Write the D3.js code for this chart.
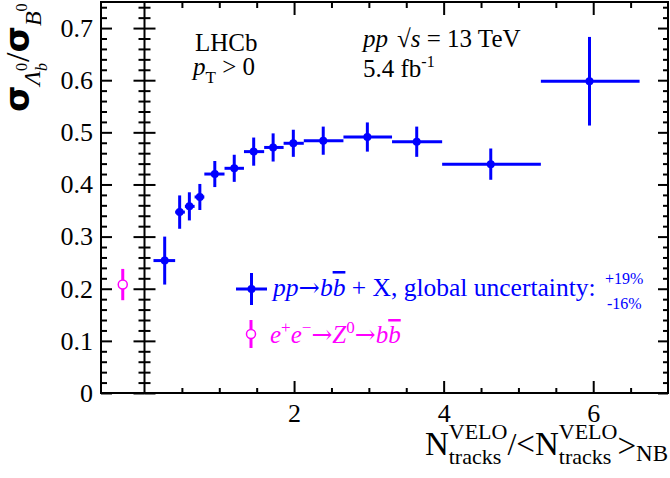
<!DOCTYPE html>
<html lang="en">
<head>
<meta charset="utf-8">
<title>Lambda_b / B0 ratio vs multiplicity</title>
<script src="https://cdn.jsdelivr.net/npm/d3@7/dist/d3.min.js"></script>
<style>
body { margin: 0; background: #fff; }
svg { display: block; font-family: "Liberation Serif", "Times New Roman", serif; }
svg text { white-space: pre; }
.tick line { stroke: #000; stroke-width: 2px; }
</style>
</head>
<body>
<script>

// pp data, one entry per multiplicity bin
var xCenter = [0.27, 0.47, 0.60, 0.74, 0.94, 1.20, 1.46, 1.72, 1.99, 2.39, 2.98, 3.64, 4.63, 5.95];
var xLow    = [0.12, 0.41, 0.54, 0.67, 0.80, 1.07, 1.33, 1.60, 1.86, 2.13, 2.66, 3.31, 3.98, 5.30];
var xHigh   = [0.41, 0.54, 0.67, 0.80, 1.07, 1.33, 1.60, 1.86, 2.13, 2.66, 3.31, 3.98, 5.30, 6.62];
var ratio    = [0.254, 0.347, 0.358, 0.376, 0.420, 0.431, 0.463, 0.471, 0.479, 0.484, 0.491, 0.482, 0.439, 0.598];
var ratioErr = [0.046, 0.032, 0.027, 0.025, 0.025, 0.026, 0.027, 0.027, 0.026, 0.027, 0.028, 0.029, 0.030, 0.085];

// e+e- (LEP) point, drawn in the side panel
var lepLabel = ["ee"];
var lepValue = [0.208];
var lepErr   = [0.030];

// ticks
var yMajor = [0, 0.1, 0.2, 0.3, 0.4, 0.5, 0.6, 0.7];
var yMinor = d3.range(0, 0.75, 0.02).filter(function(v) { return Math.abs(v * 10 - Math.round(v * 10)) > 1e-6; });
var xMajor = [2, 4, 6];
var xMinor = [0.5, 1, 1.5, 2.5, 3, 3.5, 4.5, 5, 5.5, 6.5];

var blue = "#0000ff", magenta = "#ff00ff";

var W = 670, H = 478;
// frame edges (don't call these top/left: window.top is taken)
var fL = 101, fM = 144.5, fR = 668, fT = 2, fB = 393;

var svg = d3.select("body").append("svg").attr("width", W).attr("height", H);

var x = d3.scaleLinear().domain([0, 7]).range([fM, fR]);
var y = d3.scaleLinear().domain([0, 0.75]).range([fB, fT]);
var xLep = d3.scalePoint().domain(lepLabel).range([fL, fM]).padding(0.5);

// ---- axes ----
function tidy(g) {
  g.select(".domain").remove();
  g.attr("font-family", "Liberation Serif").attr("font-size", 26);
  g.selectAll("text").attr("fill", "#000");
}

// left axis with labels, ticks pointing into the side panel
svg.append("g").attr("transform", "translate(" + fL + ",0)")
  .call(d3.axisLeft(y).tickValues(yMajor).tickSize(-11).tickPadding(8).tickFormat(d3.format("~g")))
  .call(tidy);
svg.append("g").attr("transform", "translate(" + fL + ",0)")
  .call(d3.axisLeft(y).tickValues(yMinor).tickSize(-6).tickFormat(""))
  .call(tidy);

// middle axis, ticks on both sides
[d3.axisLeft, d3.axisRight].forEach(function(ax) {
  svg.append("g").attr("transform", "translate(" + fM + ",0)")
    .call(ax(y).tickValues(yMajor).tickSize(11).tickFormat("")).call(tidy);
  svg.append("g").attr("transform", "translate(" + fM + ",0)")
    .call(ax(y).tickValues(yMinor).tickSize(6).tickFormat("")).call(tidy);
});

// right axis
svg.append("g").attr("transform", "translate(" + fR + ",0)")
  .call(d3.axisLeft(y).tickValues(yMajor).tickSize(10).tickFormat("")).call(tidy);
svg.append("g").attr("transform", "translate(" + fR + ",0)")
  .call(d3.axisLeft(y).tickValues(yMinor).tickSize(5).tickFormat("")).call(tidy);

// bottom axis
svg.append("g").attr("transform", "translate(0," + fB + ")")
  .call(d3.axisBottom(x).tickValues(xMajor).tickSize(-12).tickPadding(11).tickFormat(d3.format("d")))
  .call(tidy);
svg.append("g").attr("transform", "translate(0," + fB + ")")
  .call(d3.axisBottom(x).tickValues(xMinor).tickSize(-5).tickFormat(""))
  .call(tidy);

// top axis
svg.append("g").attr("transform", "translate(0," + fT + ")")
  .call(d3.axisTop(x).tickValues(xMajor).tickSize(-13).tickFormat("")).call(tidy);
svg.append("g").attr("transform", "translate(0," + fT + ")")
  .call(d3.axisTop(x).tickValues(xMinor).tickSize(-6).tickFormat("")).call(tidy);

// frame
var frame = svg.append("g").attr("stroke", "#000").attr("stroke-width", 2).attr("fill", "none");
frame.append("path").attr("d", "M" + fL + "," + fT + "H" + fR + "V" + fB + "H" + fL + "Z");
frame.append("line").attr("x1", fM).attr("x2", fM).attr("y1", fT).attr("y2", fB);

// ---- pp data ----
var idx = d3.range(ratio.length);
var pp = svg.append("g").attr("stroke", blue).attr("stroke-width", 3);
pp.selectAll("line.h").data(idx).enter().append("line").attr("class", "h")
  .attr("x1", function(i) { return x(xLow[i]); })
  .attr("x2", function(i) { return x(xHigh[i]); })
  .attr("y1", function(i) { return y(ratio[i]); })
  .attr("y2", function(i) { return y(ratio[i]); });
pp.selectAll("line.v").data(idx).enter().append("line").attr("class", "v")
  .attr("x1", function(i) { return x(xCenter[i]); })
  .attr("x2", function(i) { return x(xCenter[i]); })
  .attr("y1", function(i) { return y(ratio[i] - ratioErr[i]); })
  .attr("y2", function(i) { return y(ratio[i] + ratioErr[i]); });
svg.append("g").attr("fill", blue).selectAll("circle").data(idx).enter().append("circle")
  .attr("cx", function(i) { return x(xCenter[i]); })
  .attr("cy", function(i) { return y(ratio[i]); })
  .attr("r", 4);

// ---- e+e- point ----
var lep = svg.append("g");
lep.selectAll("line").data(lepLabel).enter().append("line")
  .attr("stroke", magenta).attr("stroke-width", 3)
  .attr("x1", function(d) { return xLep(d); }).attr("x2", function(d) { return xLep(d); })
  .attr("y1", function(d, i) { return y(lepValue[i] - lepErr[i]); })
  .attr("y2", function(d, i) { return y(lepValue[i] + lepErr[i]); });
lep.selectAll("circle").data(lepLabel).enter().append("circle")
  .attr("cx", function(d) { return xLep(d); })
  .attr("cy", function(d, i) { return y(lepValue[i]); })
  .attr("r", 4.5).attr("fill", "#fff").attr("stroke", magenta).attr("stroke-width", 1.5);

// ---- little latex-ish helper: lays out pieces one after another ----
function latex(parent, x0, y0, parts, color) {
  var g = parent.append("g").attr("fill", color || "#000");
  var cx = x0, prevStart = x0;
  parts.forEach(function(p) {
    var sx = p.stack ? prevStart : cx + (p.dx || 0);
    var t = g.append("text").attr("x", sx).attr("y", y0 + (p.dy || 0))
      .style("font-size", p.fs + "px")
      .style("font-style", p.it ? "italic" : "normal")
      .text(p.s);
    if (p.font) t.style("font-family", p.font);
    if (p.bold) t.style("font-weight", "bold");
    if (p.over) t.style("text-decoration", "overline");
    var ex = sx + t.node().getComputedTextLength();
    cx = p.stack ? Math.max(cx, ex) : ex;
    prevStart = sx;
  });
  return { g: g, end: cx };
}

// y title (rotated)
var yt = svg.append("g").attr("transform", "translate(29,112) rotate(-90)");
latex(yt, 0, 0, [
  { s: "σ", fs: 34, font: "DejaVu Sans", bold: true },
  { s: "Λ", fs: 24, it: true, dy: 11 },
  { s: "b", fs: 16, it: true, dy: 18 },
  { s: "0", fs: 16, dy: -2, stack: true },
  { s: "/", fs: 34, dx: 1 },
  { s: "σ", fs: 34, font: "DejaVu Sans", bold: true },
  { s: "B", fs: 24, it: true, dy: 12 },
  { s: "0", fs: 16, dy: -2 }
]);

// x title, right aligned at the frame edge
var xt = latex(svg, 0, 455, [
  { s: "N", fs: 33 },
  { s: "tracks", fs: 22, dy: 9 },
  { s: "VELO", fs: 22, dy: -16, stack: true },
  { s: "/", fs: 32 },
  { s: "<", fs: 33 },
  { s: "N", fs: 33 },
  { s: "tracks", fs: 22, dy: 9 },
  { s: "VELO", fs: 22, dy: -16, stack: true },
  { s: ">", fs: 33, dy: 2 },
  { s: "NB", fs: 23, dy: 6 }
]);
xt.g.attr("transform", "translate(" + (fR - xt.end) + ",0)");

// labels in the plot
latex(svg, 195, 51, [{ s: "LHCb", fs: 25 }]);
latex(svg, 193, 75, [
  { s: "p", fs: 25, it: true },
  { s: "T", fs: 17, dy: 8 },
  { s: " > 0", fs: 25 }
]);
latex(svg, 363, 47, [
  { s: "pp", fs: 25, it: true },
  { s: "√", fs: 25, dx: 9 },
  { s: "s", fs: 25, it: true },
  { s: " = 13 TeV", fs: 25 }
]);
latex(svg, 363, 77, [
  { s: "5.4 fb", fs: 25 },
  { s: "-1", fs: 16, dy: -10 }
]);

// ---- legend ----
var arrowFont = "DejaVu Serif";
var leg = svg.append("g");
leg.append("line").attr("x1", 236).attr("x2", 267).attr("y1", 289).attr("y2", 289)
  .attr("stroke", blue).attr("stroke-width", 3);
leg.append("line").attr("x1", 251.5).attr("x2", 251.5).attr("y1", 273).attr("y2", 305)
  .attr("stroke", blue).attr("stroke-width", 3);
leg.append("circle").attr("cx", 251.5).attr("cy", 289).attr("r", 4).attr("fill", blue);
latex(leg, 273, 296, [
  { s: "pp", fs: 25.5, it: true },
  { s: "→", fs: 25.5, font: arrowFont },
  { s: "b", fs: 25.5, it: true },
  { s: "b", fs: 25.5, it: true, over: true },
  { s: " + X, global uncertainty:", fs: 25.5 }
], blue);
latex(leg, 605, 284, [{ s: "+19%", fs: 16 }], blue);
latex(leg, 607, 309, [{ s: "-16%", fs: 16 }], blue);

leg.append("line").attr("x1", 251).attr("x2", 251).attr("y1", 320).attr("y2", 348)
  .attr("stroke", magenta).attr("stroke-width", 3);
leg.append("circle").attr("cx", 251).attr("cy", 334).attr("r", 4.5)
  .attr("fill", "#fff").attr("stroke", magenta).attr("stroke-width", 1.5);
latex(leg, 270, 343, [
  { s: "e", fs: 25, it: true },
  { s: "+", fs: 17, dy: -10 },
  { s: "e", fs: 25, it: true },
  { s: "−", fs: 17, dy: -10 },
  { s: "→", fs: 25, font: arrowFont },
  { s: "Z", fs: 25, it: true },
  { s: "0", fs: 17, dy: -10 },
  { s: "→", fs: 25, font: arrowFont },
  { s: "b", fs: 25, it: true },
  { s: "b", fs: 25, it: true, over: true }
], magenta);

</script>
</body>
</html>
